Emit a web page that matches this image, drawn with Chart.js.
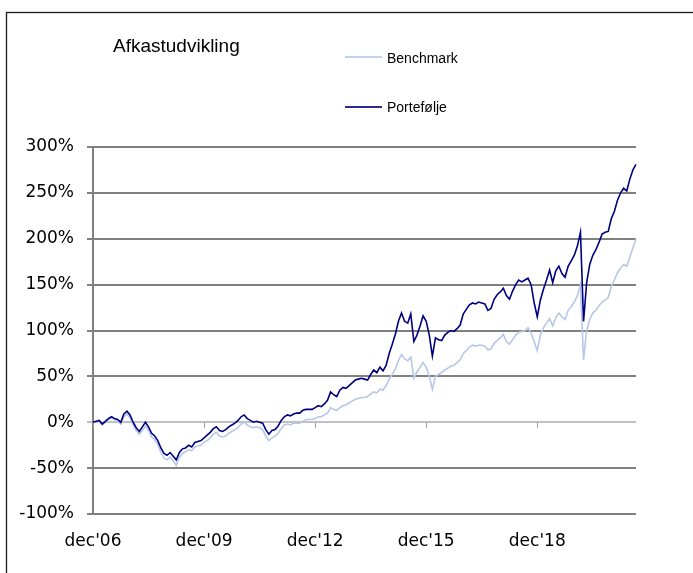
<!DOCTYPE html>
<html>
<head>
<meta charset="utf-8">
<script src="https://cdn.jsdelivr.net/npm/chart.js@4.4.1/dist/chart.umd.min.js"></script>
<style>
  html, body { margin: 0; padding: 0; background: #fff; }
  #wrap { position: relative; width: 693px; height: 573px; overflow: hidden; }
  #c { position: absolute; left: 0; top: 0; }
  .title { position: absolute; left: 113px; top: 36px; font: 19px "Liberation Sans", Arial, sans-serif; line-height: 19px; color: #000; white-space: nowrap; }
  .lg-text { position: absolute; left: 387px; font: 14px "Liberation Sans", Arial, sans-serif; line-height: 14px; color: #000; white-space: nowrap; }
  .lg-line { position: absolute; left: 345px; width: 37px; height: 2px; }
</style>
</head>
<body>
<div id="wrap">
  <canvas id="c" width="693" height="573"></canvas>
  <div class="title">Afkastudvikling</div>
  <div class="lg-line" style="top:56px;background:#c4d2ec;"></div>
  <div class="lg-text" style="top:51px;">Benchmark</div>
  <div class="lg-line" style="top:106px;background:#2a2a90;"></div>
  <div class="lg-text" style="top:100px;">Portefølje</div>
</div>
<script>
// Series names
const seriesNames = ["Benchmark", "Portefølje"];

// Monthly observations, dec'06 .. aug'21 (return in %)
const portfolio = [
  0,1,2,-2,1,4,6,4,3,0,
  9,12,8,0,-6,-10,-5,0,-5,-12,
  -15,-20,-28,-34,-36,-33,-37,-41,-33,-29,
  -28,-25,-27,-22,-21,-20,-17,-14,-11,-7,
  -5,-9,-10,-8,-5,-3,-1,2,6,8,
  4,2,0,1,0,-1,-8,-13,-9,-8,
  -4,2,6,8,7,9,10,10,13,14,
  14,14,16,18,17,20,24,33,30,28,
  35,38,37,40,43,46,47,48,47,46,
  52,57,54,60,56,62,75,85,96,110,
  119,110,108,118,88,95,105,116,110,95,
  72,92,90,89,95,98,100,99,102,106,
  118,123,128,130,129,131,130,129,122,124,
  134,139,142,146,138,134,143,150,155,153,
  155,157,150,130,115,133,145,155,166,152,
  165,170,162,158,170,176,182,192,207,110,
  152,172,182,188,196,205,207,208,222,230,
  242,250,255,252,265,275,281
];

const benchmark = [
  0,0,1,-3,0,3,5,3,1,-2,
  6,9,5,-3,-9,-13,-9,-4,-9,-16,
  -19,-24,-33,-39,-41,-38,-42,-47,-38,-34,
  -32,-30,-31,-27,-26,-25,-22,-20,-17,-13,
  -11,-15,-16,-15,-12,-10,-8,-6,-2,0,
  -3,-5,-6,-5,-6,-8,-15,-20,-17,-15,
  -12,-7,-3,-2,-3,-1,-1,-1,1,3,
  3,3,4,6,6,8,10,16,14,13,
  16,18,19,21,23,25,26,27,27,28,
  31,33,32,36,35,40,47,52,58,67,
  74,69,67,71,48,55,60,65,60,50,
  36,50,52,54,57,59,61,62,65,68,
  75,78,82,84,83,84,84,83,79,80,
  86,89,92,96,88,85,90,95,98,99,
  100,103,97,88,78,95,103,108,113,105,
  114,119,115,112,122,126,131,138,150,68,
  100,112,119,122,127,131,133,136,148,155,
  163,168,172,170,180,190,200
];

// Tick labels on the category axis
const tickLabels = ["dec'06", "dec'09", "dec'12", "dec'15", "dec'18"];
const monthNames = ["jan","feb","mar","apr","maj","jun","jul","aug","sep","okt","nov","dec"];

// Category labels (months starting dec 2006)
const categories = [];
for (let i = 0; i < portfolio.length; i++) {
  const mIdx = (11 + i) % 12;
  const yr = 2006 + Math.floor((11 + i) / 12);
  categories.push(monthNames[mIdx] + "'" + String(yr).slice(2));
}

const frameAndTicks = {
  id: 'frameAndTicks',
  beforeDraw(chart) {
    const ctx = chart.ctx;
    ctx.save();
    ctx.strokeStyle = '#1a1a1a';
    ctx.lineWidth = 1.3;
    ctx.strokeRect(6.5, 12.5, 760, 640);
    ctx.restore();
  },
  beforeDatasetsDraw(chart) {
    const ctx = chart.ctx;
    const xs = chart.scales.x, ys = chart.scales.y;
    const y0 = ys.getPixelForValue(0);
    ctx.save();
    ctx.strokeStyle = '#a0a0a0';
    ctx.lineWidth = 1;
    categories.forEach((c, i) => {
      if (tickLabels.includes(c)) {
        const x = Math.round(xs.getPixelForValue(i)) + 0.5;
        ctx.beginPath();
        ctx.moveTo(x, y0);
        ctx.lineTo(x, y0 + 6);
        ctx.stroke();
      }
    });
    ctx.restore();
  }
};

new Chart(document.getElementById('c'), {
  type: 'line',
  data: {
    labels: categories,
    datasets: [
      { label: seriesNames[0], data: benchmark, borderColor: '#b6c7e8', borderWidth: 1.6, pointRadius: 0, tension: 0, order: 1 },
      { label: seriesNames[1], data: portfolio, borderColor: '#000080', borderWidth: 1.6, pointRadius: 0, tension: 0, order: 0 }
    ]
  },
  options: {
    responsive: false,
    animation: false,
    devicePixelRatio: 1,
    layout: { padding: { left: 0, right: 57, top: 147, bottom: 0 } },
    plugins: { legend: { display: false }, title: { display: false }, tooltip: { enabled: false } },
    scales: {
      x: {
        type: 'category',
        offset: false,
        grid: { display: false, drawTicks: false },
        border: { display: false },
        afterFit(scale) { scale.height = 59; },
        ticks: {
          autoSkip: false,
          maxRotation: 0,
          minRotation: 0,
          padding: 17,
          color: '#000',
          font: { family: 'DejaVu Sans', size: 17 },
          callback(val, idx) {
            const l = categories[idx];
            return tickLabels.includes(l) ? l : null;
          }
        }
      },
      y: {
        min: -100,
        max: 300,
        afterFit(scale) { scale.width = 93; },
        border: { display: true, color: '#808080', width: 2 },
        grid: {
          color: (c) => (c.tick && c.tick.value === 0) ? '#c0c0c0' : '#808080',
          lineWidth: 2,
          drawTicks: true,
          tickLength: 6
        },
        ticks: {
          stepSize: 50,
          padding: 13,
          color: '#000',
          font: { family: 'DejaVu Sans', size: 17 },
          callback: (v) => v + '%'
        }
      }
    }
  },
  plugins: [frameAndTicks]
});
</script>
</body>
</html>
